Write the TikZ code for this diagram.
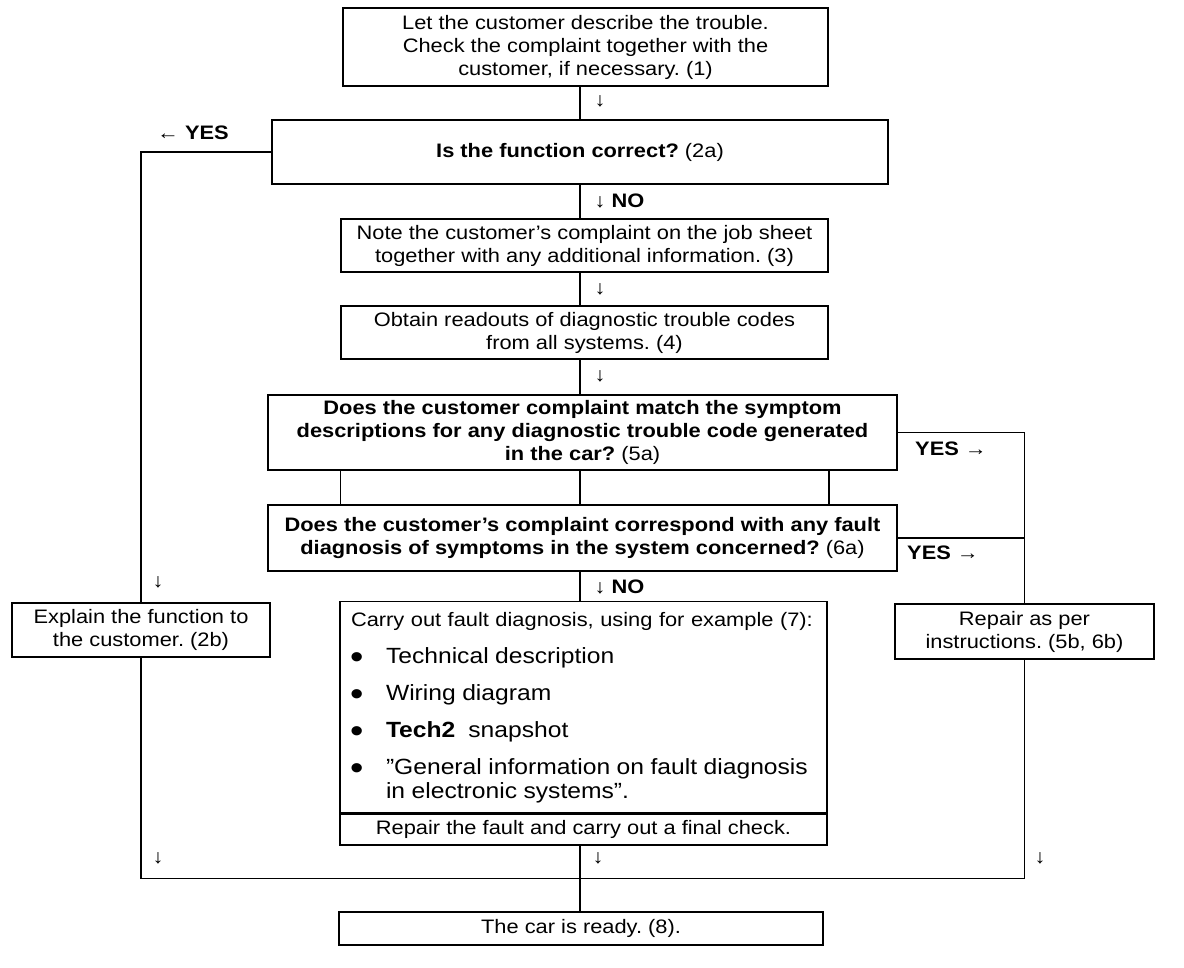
\documentclass[tikz,border=0pt]{standalone}
\usepackage{fontspec}
\setmainfont[FakeStretch=1.12]{Liberation Sans}
\usetikzlibrary{calc}
\frenchspacing

\newcommand{\dotitem}[1]{\par\vspace{13pt}\hangindent=35pt\hangafter=1\noindent\makebox[35pt][l]{\hspace{-1pt}\raisebox{-5pt}[0pt][0pt]{\fontsize{34}{34}\selectfont\textbullet}}#1\par}

\begin{document}
\begin{tikzpicture}[x=1pt,y=-1pt,line width=1.4pt,
		box/.style={draw,line width=1.6pt,inner sep=4pt,align=center,font=\fontsize{19.5}{23}\selectfont},
		ask/.style={box,font=\fontsize{19.5}{23}\selectfont\bfseries},
		lab/.style={inner sep=0pt,font=\fontsize{19.5}{20}\selectfont\bfseries},
		tip/.style={inner sep=0pt,font=\fontsize{19.5}{20}\selectfont}]
		\useasboundingbox (0,0) rectangle (1184,968);
		% boxes
		\node[box,minimum width=485,minimum height=78] (b1) at (585.5,47) {Let the customer describe the trouble.\\Check the complaint together with the\\customer, if necessary. (1)};
		\node[ask,minimum width=616,minimum height=64] (b2) at (580,152) {Is the function correct? \mdseries(2a)};
		\node[box,minimum width=487,minimum height=53] (b3) at (584.5,245.5) {Note the customer's complaint on the job sheet\\together with any additional information. (3)};
		\node[box,minimum width=487,minimum height=53] (b4) at (584.5,332.5) {Obtain readouts of diagnostic trouble codes\\from all systems. (4)};
		\node[ask,minimum width=629,minimum height=75] (b5) at (582.5,432.5) {Does the customer complaint match the symptom\\descriptions for any diagnostic trouble code generated\\in the car? {\mdseries(5a)}};
		\node[ask,minimum width=629,minimum height=66] (b6) at (582.5,538) {Does the customer's complaint correspond with any fault\\diagnosis of symptoms in the system concerned? {\mdseries(6a)}};
		\node[box,minimum width=258,minimum height=54] (b2b) at (141,630) {Explain the function to\\the customer. (2b)};
		\node[box,minimum width=259,minimum height=55] (b56) at (1024.5,631.5) {Repair as per\\instructions. (5b, 6b)};
		\node[box,minimum height=210,text width=465,inner sep=11pt,align=left] (b7) at (583.5,708) {\hyphenpenalty=10000{\fontsize{19.5}{23}\selectfont Carry out fault diagnosis, using for example (7):\par}
			\fontsize{22}{24}\selectfont
			\dotitem{Technical description}
			\dotitem{Wiring diagram}
			\dotitem{\textbf{Tech2}\ \ snapshot}
			\dotitem{”General information on fault diagnosis\newline in electronic systems”.}};
		\node[box,minimum width=487,minimum height=32] (b7r) at (583.5,829) {Repair the fault and carry out a final check.};
		\node[box,minimum width=484,minimum height=33] (b8) at (581,928.5) {The car is ready. (8).};
		% connectors
		\coordinate (m) at ($(b7r.south)!.5!(b8.north)$);
		\draw (b2.north |- b1.south) -- (b2.north);
		\draw (b2.south) -- (b2.south |- b3.north);
		\draw (b2.south |- b3.south) -- (b2.south |- b4.north);
		\draw (b2.south |- b4.south) -- (b2.south |- b5.north);
		\draw (b2.west) -| (b2b.north);
		\draw (b5.east) -| (b56.north);
		\draw (b6.east) -- (b6.east -| b56.north);
		\draw (b5.south -| b4.west) -- (b6.north -| b4.west);
		\draw (b5.south -| b4.east) -- (b6.north -| b4.east);
		\draw (b2.south |- b5.south) -- (b2.south |- b6.north);
		\draw (b2.south |- b6.south) -- (b2.south |- b7.north);
		\draw (b2b.south) |- (m) -| (b56.south);
		\draw (b2.south |- b7r.south) -- (b2.south |- b8.north);
		% labels
		\node[tip] (t1) at (600,101) {↓};
		\node[lab] (y2) at (193,133) {{\mdseries←} YES};
		\node[lab,anchor=west] (n2) at (594,201) {{\mdseries↓} NO};
		\node[tip] (t3) at (600,289) {↓};
		\node[tip] (t4) at (600,376) {↓};
		\node[lab] (y5) at (951,449) {YES {\mdseries→}};
		\node[lab] (y6) at (943,553) {YES {\mdseries→}};
		\node[lab,anchor=west] (n6) at (594,587) {{\mdseries↓} NO};
		\node[tip] (t2b) at (158,582) {↓};
		\node[tip] (tl) at (158,858) {↓};
		\node[tip] (tm) at (598,858) {↓};
		\node[tip] (tr) at (1040,858) {↓};
	\end{tikzpicture}
\end{document}
